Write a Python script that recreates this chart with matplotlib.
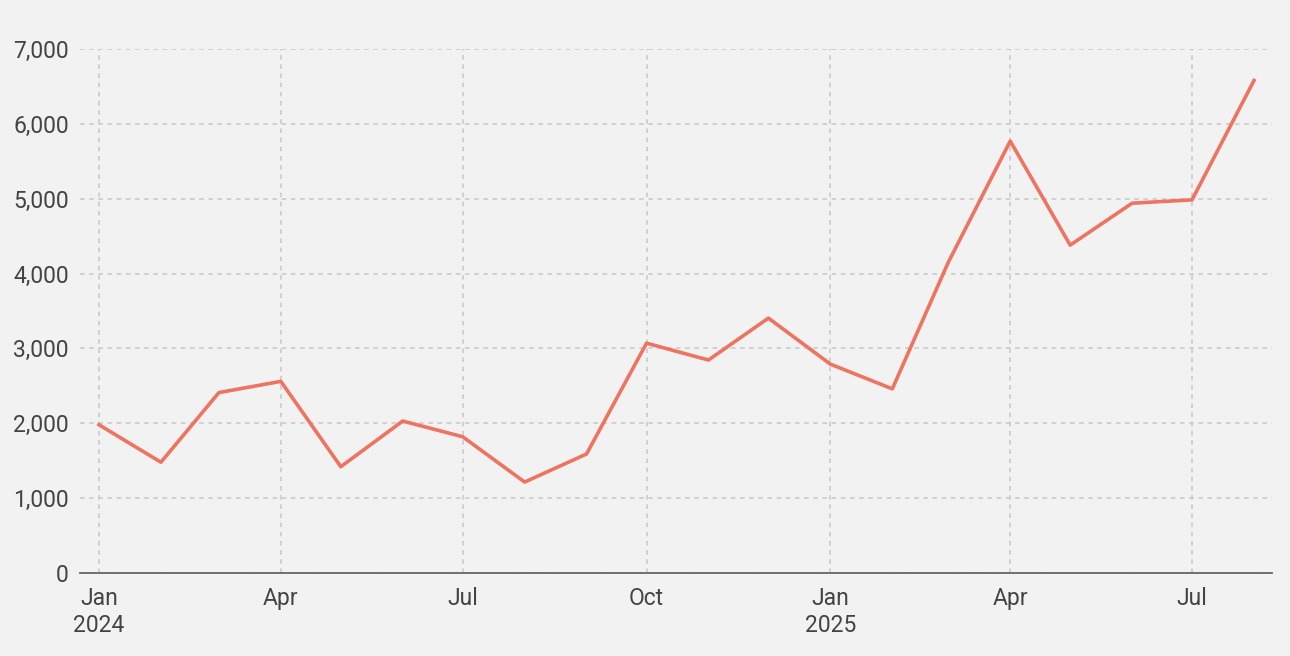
import matplotlib
matplotlib.use("Agg")
import matplotlib.pyplot as plt
from matplotlib.ticker import FuncFormatter, MultipleLocator
import pandas as pd

dates = pd.date_range("2024-01-01", "2025-08-01", freq="MS")
values = [1980, 1480, 2410, 2560, 1420, 2030, 1820, 1215, 1590, 3070,
          2845, 3405, 2790, 2460, 4150, 5770, 4380, 4940, 4985, 6580]
tick_dates = pd.to_datetime(["2024-01-01", "2024-04-01", "2024-07-01", "2024-10-01",
                             "2025-01-01", "2025-04-01", "2025-07-01"])
tick_labels = ["Jan\n2024", "Apr", "Jul", "Oct", "Jan\n2025", "Apr", "Jul"]

plt.rcParams['font.family'] = ['Roboto', 'DejaVu Sans']
bg = "#f2f2f2"
fig = plt.figure(figsize=(12.9, 6.56), dpi=100, facecolor=bg)
ax = fig.add_axes([80/1290, 1-573/656, (1272-80)/1290, (573-49)/656])
ax.set_facecolor(bg)

ax.plot(dates, values, color="#ee7461", lw=2.6, solid_joinstyle="round", zorder=3)

ax.set_ylim(0, 7000)
ax.yaxis.set_major_locator(MultipleLocator(1000))
ax.yaxis.set_major_formatter(FuncFormatter(lambda v, p: f"{int(v):,}"))
x0 = pd.Timestamp("2024-01-01") - pd.Timedelta(days=9.5)
x1 = pd.Timestamp("2025-08-01") + pd.Timedelta(days=9)
ax.set_xlim(x0, x1)
ax.set_xticks(tick_dates)
ax.set_xticklabels(tick_labels)

ax.grid(True, color="#c8c8c8", linestyle=(0, (3, 3)), lw=1.1)
ax.set_axisbelow(True)
for s in ["top", "right", "left"]:
    ax.spines[s].set_visible(False)
ax.spines["bottom"].set_color("#666666")
ax.spines["bottom"].set_linewidth(1.3)
ax.tick_params(length=0, labelsize=16.5, colors="#444444")
ax.tick_params(axis="y", pad=8)
ax.tick_params(axis="x", pad=10)
for lab in ax.get_xticklabels():
    lab.set_linespacing(1.25)

fig.savefig("out.png", dpi=100, facecolor=bg)
